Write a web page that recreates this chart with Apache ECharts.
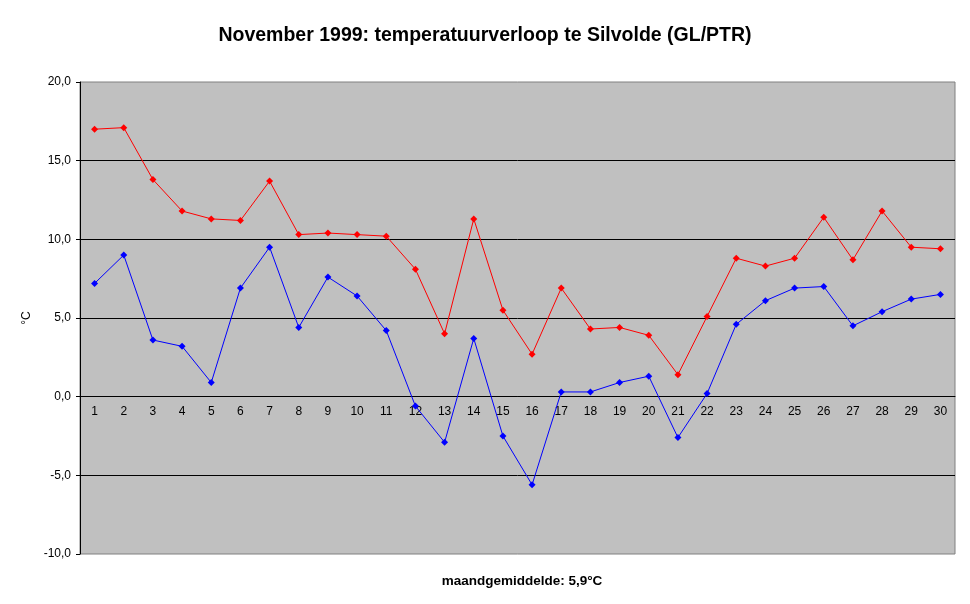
<!DOCTYPE html>
<html>
<head>
<meta charset="utf-8">
<script src="https://cdn.jsdelivr.net/npm/echarts@6/dist/echarts.min.js"></script>
<style>
html,body{margin:0;padding:0;background:#fff;}
#chart{width:970px;height:604px;}
</style>
</head>
<body>
<div id="chart"></div>
<script>
// dagen van november 1999
var days = [];
for (var d = 1; d <= 30; d++) days.push(String(d));

// maximum temperatuur (rood)
var maxTemp = [17.0, 17.1, 13.8, 11.8, 11.3, 11.2, 13.7, 10.3, 10.4, 10.3,
               10.2, 8.1, 4.0, 11.3, 5.5, 2.7, 6.9, 4.3, 4.4, 3.9,
               1.4, 5.1, 8.8, 8.3, 8.8, 11.4, 8.7, 11.8, 9.5, 9.4];

// minimum temperatuur (blauw)
var minTemp = [7.2, 9.0, 3.6, 3.2, 0.9, 6.9, 9.5, 4.4, 7.6, 6.4,
               4.2, -0.6, -2.9, 3.7, -2.5, -5.6, 0.3, 0.3, 0.9, 1.3,
               -2.6, 0.2, 4.6, 6.1, 6.9, 7.0, 4.5, 5.4, 6.2, 6.5];

var titleText = 'November 1999: temperatuurverloop te Silvolde (GL/PTR)';
var footText = 'maandgemiddelde: 5,9°C';

var yMin = -10, yMax = 20;
var gridH = 472;
// x-as ligt op 0 graden
var zeroOffset = -gridH * (0 - yMin) / (yMax - yMin);

var fontFam = '"Liberation Sans", Arial, sans-serif';

var myChart = echarts.init(document.getElementById('chart'));
myChart.setOption({
	animation: false,
	backgroundColor: '#ffffff',
	title: [{
		text: titleText,
		left: 'center',
		top: 21,
		textStyle: {fontFamily: fontFam, fontSize: 19.5, fontWeight: 'bold', color: '#000'}
	}, {
		text: footText,
		left: 517,
		textAlign: 'center',
		top: 569,
		textStyle: {fontFamily: fontFam, fontSize: 13.5, fontWeight: 'bold', color: '#000'}
	}],
	grid: {
		left: 80, top: 82, width: 875, height: gridH,
		show: true, backgroundColor: '#c0c0c0', borderColor: '#808080', borderWidth: 1
	},
	xAxis: {
		type: 'category',
		data: days,
		boundaryGap: true,
		position: 'bottom',
		offset: zeroOffset,
		axisLine: {onZero: false, lineStyle: {color: '#000', width: 1}},
		axisTick: {interval: 0, length: 5, lineStyle: {color: '#000'}},
		axisLabel: {interval: 0, margin: 9, fontFamily: fontFam, fontSize: 12, color: '#000'},
		splitLine: {show: false}
	},
	yAxis: {
		type: 'value',
		min: yMin, max: yMax, interval: 5,
		name: '°C',
		nameLocation: 'middle',
		nameGap: 46,
		nameRotate: 90,
		nameTextStyle: {fontFamily: fontFam, fontSize: 12, color: '#000'},
		axisLine: {show: true, lineStyle: {color: '#000', width: 1}},
		axisTick: {show: true, length: 4, lineStyle: {color: '#000'}},
		axisLabel: {
			margin: 9, fontFamily: fontFam, fontSize: 12, color: '#000',
			formatter: function (v) { return v.toFixed(1).replace('.', ','); }
		},
		splitLine: {show: true, showMinLine: false, showMaxLine: false, lineStyle: {color: '#000', width: 1}}
	},
	series: [{
		name: 'max',
		type: 'line',
		data: maxTemp,
		symbol: 'diamond',
		symbolSize: 7,
		lineStyle: {color: '#ff0000', width: 1},
		itemStyle: {color: '#ff0000'}
	}, {
		name: 'min',
		type: 'line',
		data: minTemp,
		symbol: 'diamond',
		symbolSize: 7,
		lineStyle: {color: '#0000ff', width: 1},
		itemStyle: {color: '#0000ff'}
	}]
});
</script>
</body>
</html>
